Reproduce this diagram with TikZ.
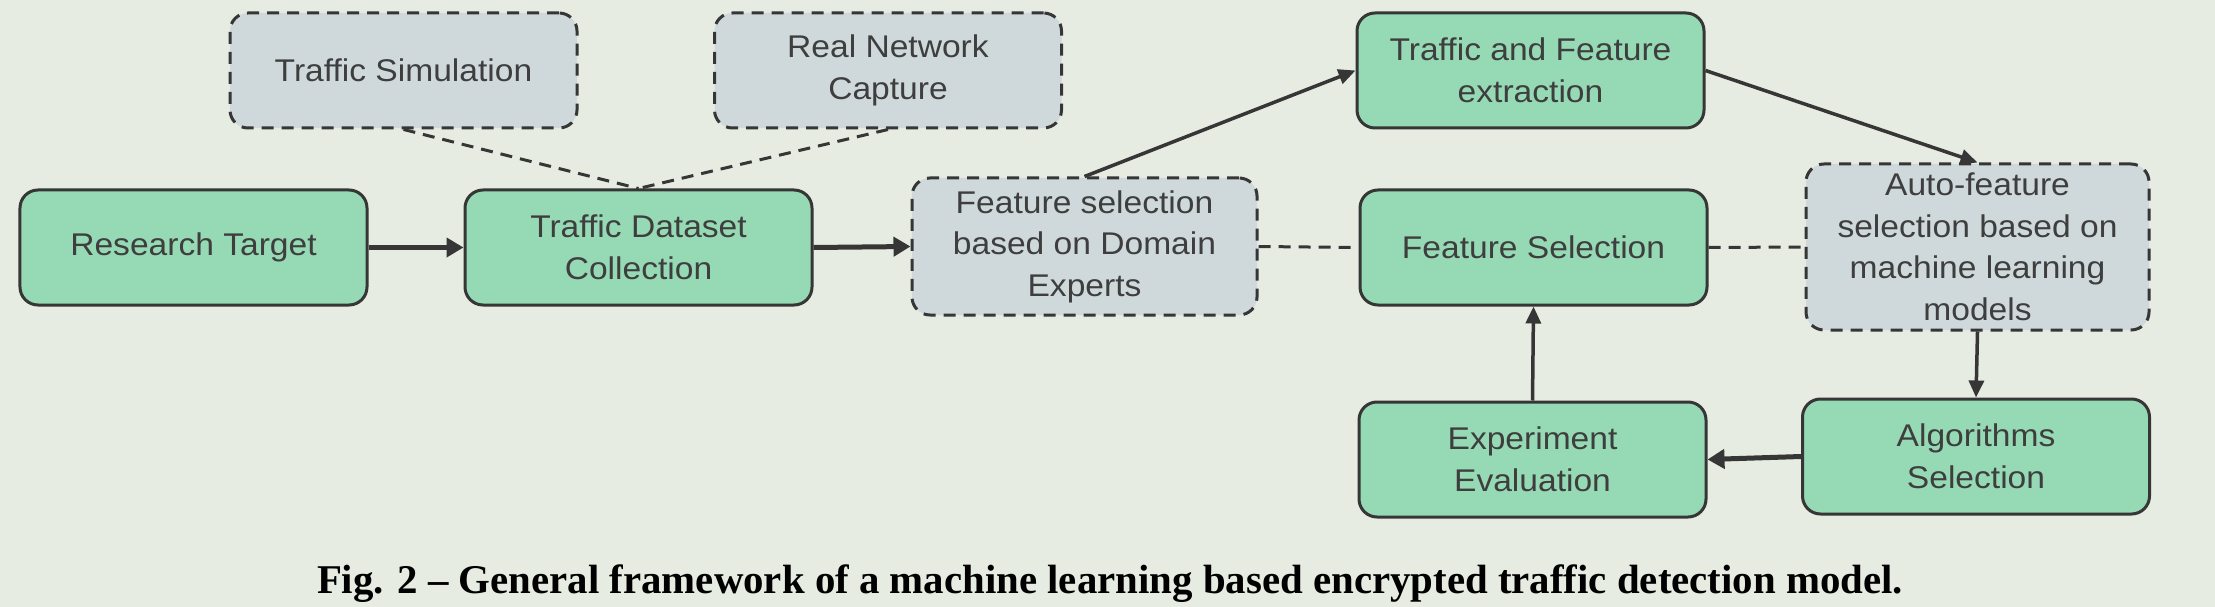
\documentclass[tikz,border=0pt]{standalone}
\usepackage{fontspec}
\setmainfont{Liberation Sans}
\newfontfamily\boxfont[FakeStretch=1.07]{Liberation Sans}
\newfontfamily\capfont{Liberation Serif}
\usetikzlibrary{arrows.meta}
\definecolor{bgc}{HTML}{E7ECE3}
\definecolor{greenfill}{HTML}{96DAB5}
\definecolor{grayfill}{HTML}{CFD9DC}
\definecolor{edgec}{HTML}{363636}
\definecolor{txtc}{HTML}{3E3E3E}
\begin{document}
\begin{tikzpicture}[x=1bp,y=-1bp,
 box/.style={draw=edgec, line width=3bp, rounded corners=18bp, minimum width=347bp, minimum height=115bp, align=center, text=txtc, font=\boxfont\fontsize{31.5}{41.7}\selectfont, inner sep=0pt},
 gbox/.style={box, fill=greenfill},
 dbox/.style={box, fill=grayfill, dash pattern=on 12bp off 8bp},
 flow/.style={draw=edgec, line width=5bp, -{Triangle[length=17bp,width=19bp]}},
 thinflow/.style={draw=edgec, line width=3.5bp, -{Triangle[length=17bp,width=15bp]}},
 link/.style={draw=edgec, line width=3bp, dash pattern=on 12bp off 8bp}]
\useasboundingbox (0,0) rectangle (2215,607);
\fill[bgc] (0,0) rectangle (2215,607);

\node[dbox] (sim) at (403.5,70.5) {Traffic Simulation};
\node[dbox] (real) at (888,70.5) {Real Network\\Capture};
\node[gbox] (target) at (193.5,247.5) {Research Target};
\node[gbox] (dataset) at (638.5,247.5) {Traffic Dataset\\Collection};
\node[dbox, minimum width=345bp, minimum height=137bp] (experts) at (1084.5,246.5) {Feature selection\\based on Domain\\Experts};
\node[gbox] (tfe) at (1530.5,70.5) {Traffic and Feature\\extraction};
\node[gbox] (fsel) at (1533.5,247.5) {Feature Selection};
\node[dbox, minimum width=343bp, minimum height=166bp] (auto) at (1977.5,247) {Auto-feature\\selection based on\\machine learning\\models};
\node[gbox] (exp) at (1532.5,459.5) {Experiment\\Evaluation};
\node[gbox] (alg) at (1976,456.5) {Algorithms\\Selection};

\draw[link] (sim.south) -- (dataset.north);
\draw[link] (real.south) -- (dataset.north);
\draw[link] (experts.east) -- (fsel.west);
\draw[link] (fsel.east) -- (auto.west);

\draw[flow] (target.east) -- (dataset.west);
\draw[flow] (dataset.east) -- (experts.west);
\draw[thinflow] (experts.north) -- (tfe.west);
\draw[thinflow] (tfe.east) -- (auto.north);
\draw[thinflow] (auto.south) -- (alg.north);
\draw[flow] (alg.west) -- (exp.east);
\draw[thinflow] (exp.north) -- (fsel.south);

\node[anchor=base, font=\capfont\bfseries\fontsize{41}{47}\selectfont, text=black] (cap) at (1110,593) {Fig. 2 \textendash\ General framework of a machine learning based encrypted traffic detection model.};
\end{tikzpicture}
\end{document}
